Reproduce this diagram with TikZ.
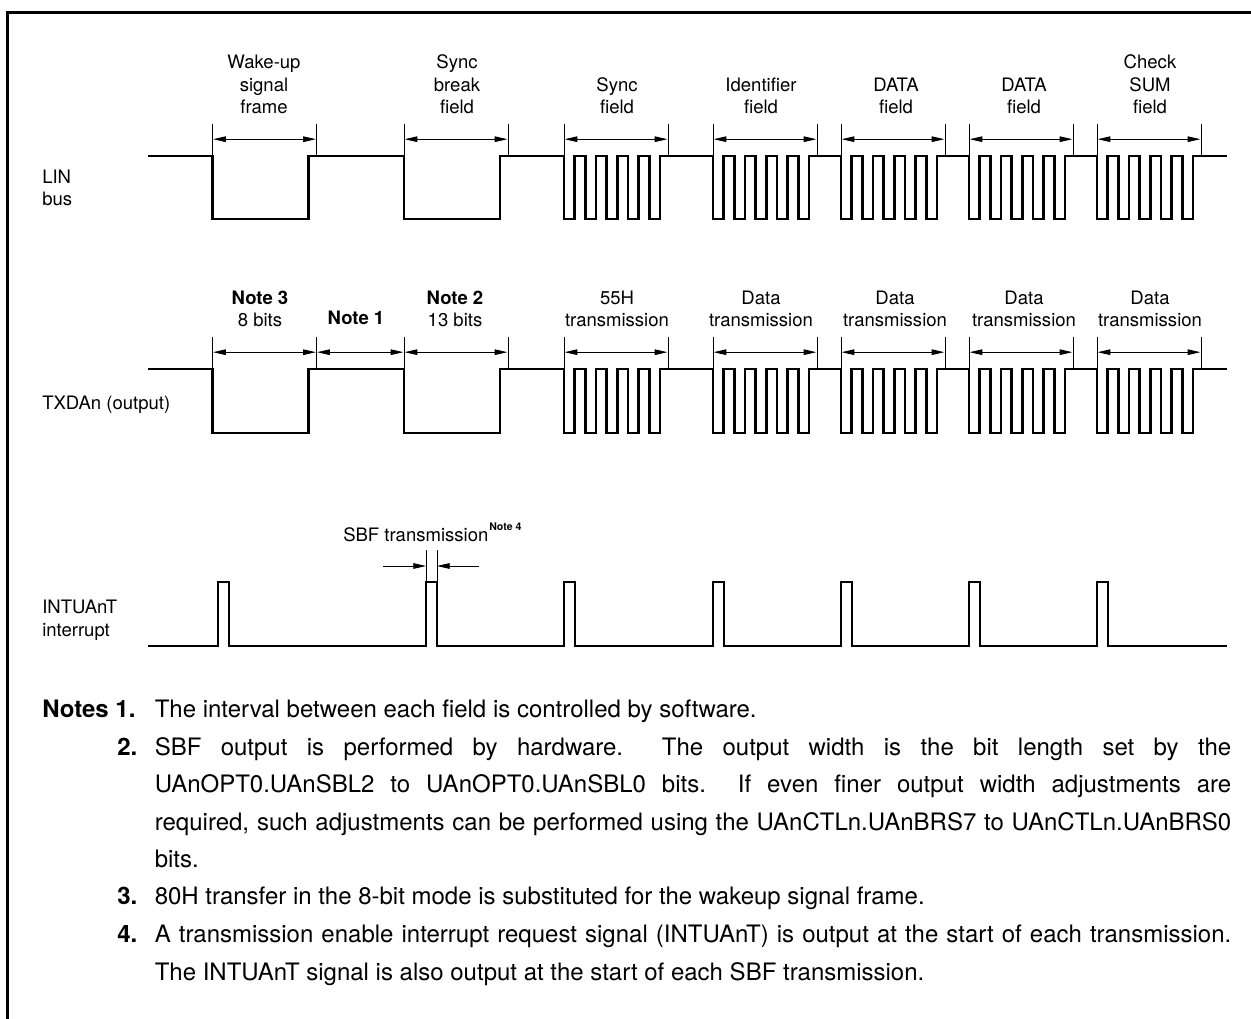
\documentclass[tikz,border=0pt]{standalone}
\usepackage{fontspec}
\setmainfont{TeX Gyre Heros}
\usetikzlibrary{arrows.meta}
\newcommand{\burst}[3]{-- (#1,#2) -- (#1,#3)
 -- ({#1+10.67},#3) -- ({#1+10.67},#2) -- ({#1+21.33},#2) -- ({#1+21.33},#3)
 -- ({#1+32},#3) -- ({#1+32},#2) -- ({#1+42.67},#2) -- ({#1+42.67},#3)
 -- ({#1+53.33},#3) -- ({#1+53.33},#2) -- ({#1+64},#2) -- ({#1+64},#3)
 -- ({#1+74.67},#3) -- ({#1+74.67},#2) -- ({#1+85.33},#2) -- ({#1+85.33},#3)
 -- ({#1+96},#3) -- ({#1+96},#2)}
\newcommand{\brk}[3]{-- (#1,#2) -- (#1,#3) -- ({#1+96},#3) -- ({#1+96},#2)}
\newcommand{\sigline}[2]{\draw[sig] (148,#1) \brk{212.5}{#1}{#2} \brk{404}{#1}{#2}
 \burst{564}{#1}{#2} \burst{713}{#1}{#2} \burst{841}{#1}{#2} \burst{969}{#1}{#2} \burst{1097}{#1}{#2} -- (1226.5,#1);}
\newcommand{\dimline}[4]{% id, left x, right x, high level (tick bottom)
 \coordinate (#1a) at (#2,#4); \coordinate (#1b) at (#3,#4);
 \coordinate (#1at) at (#2,{#4-32}); \coordinate (#1bt) at (#3,{#4-32});
 \coordinate (#1am) at (#2,{#4-16.8}); \coordinate (#1bm) at (#3,{#4-16.8});
 \draw[thin line] (#1a) -- (#1at); \draw[thin line] (#1b) -- (#1bt);
 \draw[dim] (#1am) -- (#1bm);}
\tikzset{
 sig/.style={line width=1.85pt, miter limit=10, line join=miter},
 thin line/.style={line width=0.55pt},
 dim/.style={line width=0.6pt, {Triangle[length=9.5pt,width=4.2pt]}-{Triangle[length=9.5pt,width=4.2pt]}, shorten <=0.5pt, shorten >=0.5pt},
 single/.style={line width=0.6pt, -{Triangle[length=9.5pt,width=4.2pt]}},
 lbl/.style={inner sep=0pt, font=\fontsize{13.9}{16.9}\selectfont, align=center, anchor=base},
 side/.style={inner sep=0pt, font=\fontsize{13.9}{16.9}\selectfont, align=left, anchor=base west},
 nt/.style={inner sep=0pt, font=\fontsize{18}{22}\selectfont, anchor=base west},
 frameline/.style={line width=2.25pt, line cap=butt, line join=miter},
}
\newcommand{\jl}[1]{\makebox[807.4pt][s]{#1}}
\begin{document}
\begin{tikzpicture}[x=0.75pt,y=-0.75pt]
\useasboundingbox (0,0) rectangle (1251,1019);
\coordinate (fa) at (7.5,1019); \coordinate (fb) at (7.5,12.5); \coordinate (fc) at (1251,12.5);
\draw[frameline] (fa) -- (fb) -- (fc);

% LIN bus
\sigline{156}{219}
\dimline{aA}{212.5}{316.5}{156}
\dimline{aB}{404}{508}{156}
\dimline{aC}{564}{668}{156}
\dimline{aD}{713}{817}{156}
\dimline{aE}{841}{945}{156}
\dimline{aF}{969}{1073}{156}
\dimline{aG}{1097}{1201}{156}
\node[lbl] (t1) at (264,114) {Wake-up\\signal\\frame};
\node[lbl] (t2) at (457,114) {Sync\\break\\field};
\node[lbl] (t3) at (617,114) {Sync\\field};
\node[lbl] (t4) at (761,114) {Identifier\\field};
\node[lbl] (t5) at (896,114) {DATA\\field};
\node[lbl] (t6) at (1024,114) {DATA\\field};
\node[lbl] (t7) at (1150,114) {Check\\SUM\\field};
\node[side] (s1) at (42,206) {LIN\\bus};

% TXD
\sigline{369}{433}
\dimline{bA}{212.5}{316.5}{369}
\dimline{bN}{316.5}{404}{369}
\dimline{bB}{404}{508}{369}
\dimline{bC}{564}{668}{369}
\dimline{bD}{713}{817}{369}
\dimline{bE}{841}{945}{369}
\dimline{bF}{969}{1073}{369}
\dimline{bG}{1097}{1201}{369}
\node[lbl] (u1) at (260,327) {\textbf{Note 3}\\8 bits};
\node[lbl] (u2) at (356,325) {\textbf{Note 1}};
\node[lbl] (u3) at (455,327) {\textbf{Note 2}\\13 bits};
\node[lbl] (u4) at (617,327) {55H\\transmission};
\node[lbl] (u5) at (761,327) {Data\\transmission};
\node[lbl] (u6) at (895,327) {Data\\transmission};
\node[lbl] (u7) at (1024,327) {Data\\transmission};
\node[lbl] (u8) at (1150,327) {Data\\transmission};
\node[side] (s2) at (42,409) {TXDAn (output)};

% interrupt
\draw[sig] (148,646)
 \foreach \p in {218,426,564,713,841,969,1097} { -- (\p,646) -- (\p,582) -- ({\p+11},582) -- ({\p+11},646) }
 -- (1226.5,646);
\coordinate (c1) at (426,582); \coordinate (c1t) at (426,550);
\coordinate (c2) at (437,582); \coordinate (c2t) at (437,550);
\draw[thin line] (c1) -- (c1t); \draw[thin line] (c2) -- (c2t);
\coordinate (c1m) at (426,566); \coordinate (c2m) at (437,566);
\coordinate (c1o) at (383,566); \coordinate (c2o) at (479,566);
\draw[single] (c1o) -- (c1m); \draw[single] (c2o) -- (c2m);
\node[side] (sbf) at (343,541) {SBF transmission};
\node[inner sep=0pt, anchor=base west, font=\fontsize{7.9}{9}\selectfont\bfseries] (sbfn) at (489,530) {Note 4};
\node[side] (s3) at (42,636) {INTUAnT\\interrupt};

% notes
\node[nt] (n0) at (42,717) {\textbf{Notes 1.}};
\node[nt] (n1) at (154.5,717) {The interval between each field is controlled by software.};
\node[nt] (n2n) at (117,755) {\textbf{2.}};
\node[nt] (n2) at (154.5,755) {\jl{SBF output is performed by hardware.\ \ The output width is the bit length set by the}};
\node[nt] (n2b) at (154.5,792) {\jl{UAnOPT0.UAnSBL2 to UAnOPT0.UAnSBL0 bits.\ \ If even finer output width adjustments are}};
\node[nt] (n2c) at (154.5,830) {\jl{required, such adjustments can be performed using the UAnCTLn.UAnBRS7 to UAnCTLn.UAnBRS0}};
\node[nt] (n2d) at (154.5,867) {bits.};
\node[nt] (n3n) at (117,904) {\textbf{3.}};
\node[nt] (n3) at (154.5,904) {80H transfer in the 8-bit mode is substituted for the wakeup signal frame.};
\node[nt] (n4n) at (117,942) {\textbf{4.}};
\node[nt] (n4) at (154.5,942) {\jl{A transmission enable interrupt request signal (INTUAnT) is output at the start of each transmission.}};
\node[nt] (n4b) at (154.5,980) {The INTUAnT signal is also output at the start of each SBF transmission.};
\end{tikzpicture}
\end{document}
